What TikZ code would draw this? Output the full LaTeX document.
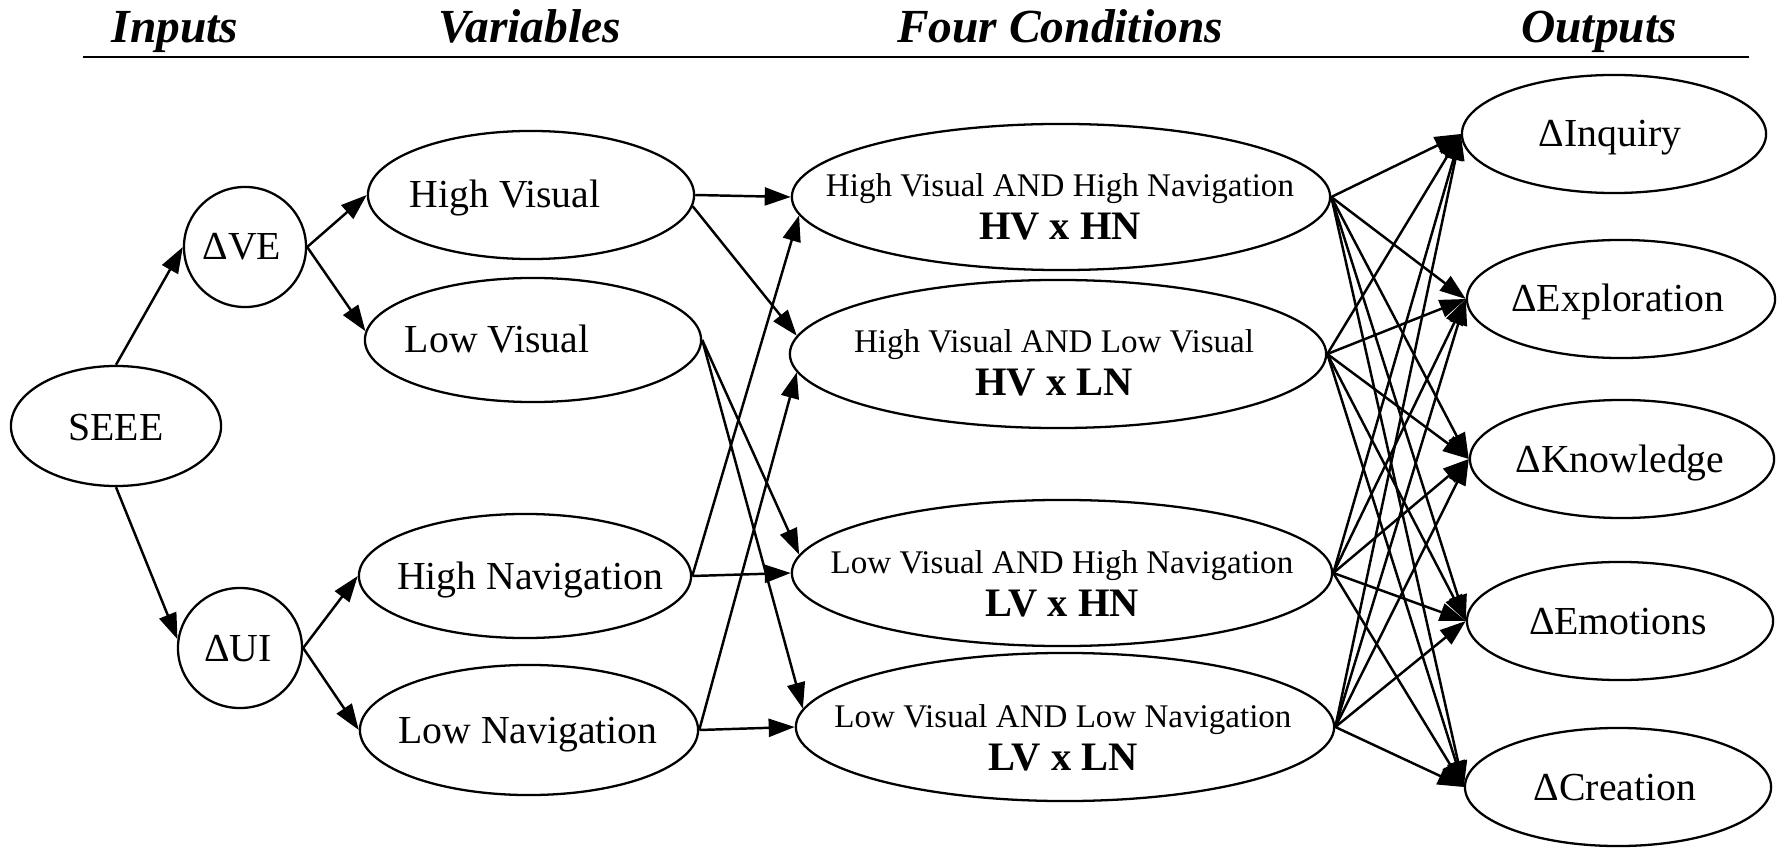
\documentclass[tikz,border=0pt]{standalone}
\usepackage{fontspec}
\setmainfont{Liberation Serif}
\usetikzlibrary{arrows.meta,shapes.geometric}

\tikzset{
  oval/.style={draw, ellipse, line width=0.65pt, inner sep=0pt},
  lbl/.style={anchor=base, inner sep=0pt, font=\fontsize{11.3}{13}\selectfont},
  condtxt/.style={anchor=base, inner sep=0pt, font=\fontsize{9.4}{11}\selectfont},
  condcode/.style={anchor=base, inner sep=0pt, font=\fontsize{11.5}{13}\selectfont\bfseries},
  head/.style={anchor=base, inner sep=0pt, font=\fontsize{13.5}{16}\selectfont\bfseries\itshape},
  link/.style={line width=0.7pt, -{Triangle[length=0.26cm,width=0.18cm]}},
}

\begin{document}
\begin{tikzpicture}[x=0.01cm, y=-0.01cm]
\useasboundingbox (0,0) rectangle (1782,849);

% column headings and rule
\node[head] (h-in)   at (175,43)  {Inputs};
\node[head] (h-var)  at (530,43)  {Variables};
\node[head] (h-cond) at (1060,43) {Four Conditions};
\node[head] (h-out)  at (1599,43) {Outputs};
\coordinate (rule-l) at (83,57);
\coordinate (rule-r) at (1749,57);
\draw[line width=0.75pt] (rule-l) -- (rule-r);

% inputs
\node[oval, minimum width=2.10cm, minimum height=1.20cm] (seee) at (116,426) {};
\node[lbl] (seee-t) at (116,440) {SEEE};
\node[oval, minimum width=1.22cm, minimum height=1.20cm] (ve) at (245,247) {};
\node[lbl] (ve-t) at (242,260) {ΔVE};
\node[oval, minimum width=1.24cm, minimum height=1.20cm] (ui) at (240,648) {};
\node[lbl] (ui-t) at (238,661) {ΔUI};

% variables
\node[oval, minimum width=3.26cm, minimum height=1.28cm] (hv) at (531,195) {};
\node[lbl] (hv-t) at (505,208) {High Visual};
\node[oval, minimum width=3.36cm, minimum height=1.24cm] (lv) at (533,340) {};
\node[lbl] (lv-t) at (497,353) {Low Visual};
\node[oval, minimum width=3.32cm, minimum height=1.24cm] (hn) at (525,576) {};
\node[lbl] (hn-t) at (530,589) {High Navigation};
\node[oval, minimum width=3.38cm, minimum height=1.30cm] (ln) at (529,730) {};
\node[lbl] (ln-t) at (528,743) {Low Navigation};

% four conditions
\node[oval, minimum width=5.38cm, minimum height=1.46cm] (hvhn) at (1061,197) {};
\node[condtxt]  (hvhn-t) at (1060,197) {High Visual AND High Navigation};
\node[condcode] (hvhn-c) at (1060,240) {HV x HN};
\node[oval, minimum width=5.36cm, minimum height=1.48cm] (hvln) at (1058,354) {};
\node[condtxt]  (hvln-t) at (1054,353) {High Visual AND Low Visual};
\node[condcode] (hvln-c) at (1054,396) {HV x LN};
\node[oval, minimum width=5.40cm, minimum height=1.46cm] (lvhn) at (1062,573) {};
\node[condtxt]  (lvhn-t) at (1062,573) {Low Visual AND High Navigation};
\node[condcode] (lvhn-c) at (1062,616) {LV x HN};
\node[oval, minimum width=5.38cm, minimum height=1.48cm] (lvln) at (1065,727) {};
\node[condtxt]  (lvln-t) at (1063,727) {Low Visual AND Low Navigation};
\node[condcode] (lvln-c) at (1063,770) {LV x LN};

% outputs
\node[oval, minimum width=3.04cm, minimum height=1.18cm] (inq) at (1614,134) {};
\node[lbl] (inq-t) at (1610,147) {ΔInquiry};
\node[oval, minimum width=3.08cm, minimum height=1.18cm] (exp) at (1621,299) {};
\node[lbl] (exp-t) at (1618,312) {ΔExploration};
\node[oval, minimum width=3.04cm, minimum height=1.18cm] (kno) at (1622,459) {};
\node[lbl] (kno-t) at (1620,472) {ΔKnowledge};
\node[oval, minimum width=3.06cm, minimum height=1.18cm] (emo) at (1620,621) {};
\node[lbl] (emo-t) at (1618,634) {ΔEmotions};
\node[oval, minimum width=3.06cm, minimum height=1.18cm] (cre) at (1618,787) {};
\node[lbl] (cre-t) at (1615,800) {ΔCreation};

% inputs to variables
\draw[link] (seee.north) -- (ve.west);
\draw[link] (seee.south) -- (ui.172);
\draw[link] (ve.east) -- (hv.west);
\draw[link] (ve.east) -- (lv.177);
\draw[link] (ui.east) -- (hn.west);
\draw[link] (ui.east) -- (ln.west);

% variables to conditions
\draw[link] (hv.east) -- (hvhn.west);
\draw[link] (hv.-4) -- (hvln.176);
\draw[link] (lv.east) -- (lvhn.176);
\draw[link] (lv.east) -- (lvln.176);
\draw[link] (hn.east) -- (hvhn.184);
\draw[link] (hn.east) -- (lvhn.west);
\draw[link] (ln.east) -- (hvln.184);
\draw[link] (ln.east) -- (lvln.west);

% conditions to outputs
\foreach \c in {hvhn,hvln,lvhn,lvln}{
  \foreach \o in {inq,exp,kno,emo,cre}{
    \draw[link] (\c.east) -- (\o.west);
  }
}
\end{tikzpicture}
\end{document}
